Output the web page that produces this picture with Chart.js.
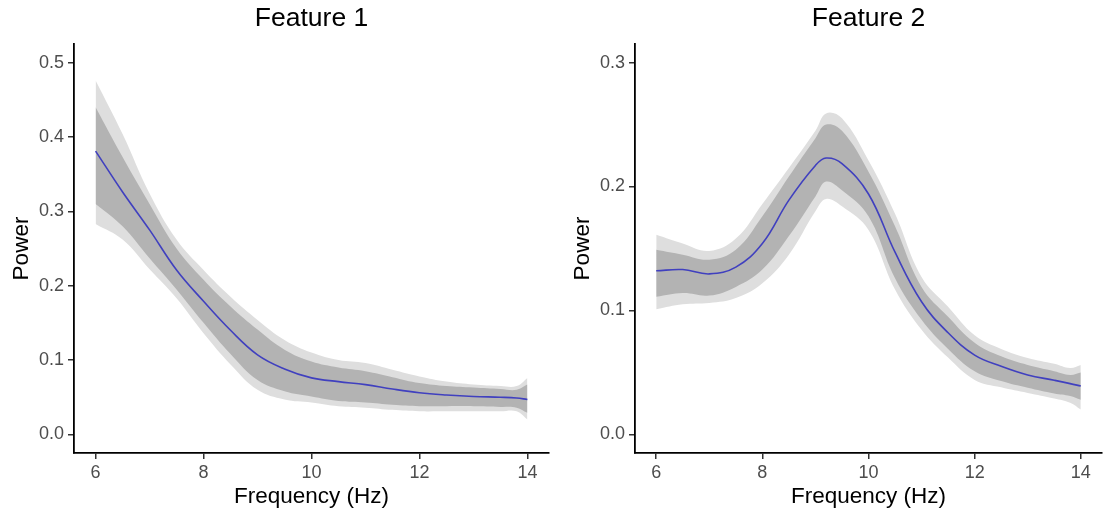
<!DOCTYPE html>
<html>
<head>
<meta charset="utf-8">
<script src="https://cdn.jsdelivr.net/npm/chart.js@4.4.1/dist/chart.umd.min.js"></script>
<style>
  body { margin: 0; background: #fff; }
  #wrap { position: relative; width: 1103px; height: 515px; }
  canvas { position: absolute; top: 0; }
</style>
</head>
<body>
<div id="wrap">
  <canvas id="feat1" width="551" height="515" style="left:0"></canvas>
  <canvas id="feat2" width="542" height="515" style="left:561px"></canvas>
</div>
<script>
// Feature 1
const freq1 = [6, 6.5, 7, 7.5, 8, 8.5, 9, 9.5, 10, 10.5, 11, 11.5, 12, 12.5, 13, 13.5, 13.8, 14];
const mean1 = [0.381, 0.326, 0.275, 0.221, 0.179, 0.140, 0.107, 0.088, 0.076, 0.071, 0.067, 0.061, 0.056, 0.053, 0.051, 0.050, 0.049, 0.047];
const innerHi1 = [0.440, 0.373, 0.310, 0.250, 0.208, 0.172, 0.141, 0.114, 0.098, 0.090, 0.085, 0.077, 0.069, 0.065, 0.063, 0.061, 0.060, 0.067];
const innerLo1 = [0.310, 0.280, 0.237, 0.195, 0.150, 0.108, 0.073, 0.058, 0.051, 0.045, 0.043, 0.040, 0.038, 0.038, 0.038, 0.037, 0.036, 0.029];
const outerHi1 = [0.476, 0.404, 0.324, 0.262, 0.221, 0.185, 0.154, 0.127, 0.110, 0.100, 0.096, 0.087, 0.078, 0.071, 0.067, 0.065, 0.065, 0.076];
const outerLo1 = [0.283, 0.262, 0.222, 0.183, 0.136, 0.094, 0.060, 0.047, 0.043, 0.038, 0.036, 0.033, 0.031, 0.031, 0.031, 0.031, 0.031, 0.020];

// Feature 2
const freq2 = [6, 6.5, 7, 7.5, 8, 8.5, 9, 9.2, 9.5, 10, 10.5, 11, 11.5, 12, 12.5, 13, 13.5, 13.8, 14];
const mean2 = [0.132, 0.133, 0.1295, 0.135, 0.154, 0.189, 0.217, 0.223, 0.2185, 0.194, 0.147, 0.107, 0.082, 0.064, 0.055, 0.048, 0.0437, 0.041, 0.039];
const innerHi2 = [0.149, 0.145, 0.141, 0.149, 0.176, 0.208, 0.239, 0.250, 0.245, 0.212, 0.168, 0.119, 0.095, 0.074, 0.063, 0.056, 0.051, 0.048, 0.050];
const innerLo2 = [0.111, 0.114, 0.112, 0.119, 0.133, 0.160, 0.192, 0.204, 0.197, 0.176, 0.126, 0.0925, 0.069, 0.051, 0.043, 0.0376, 0.033, 0.031, 0.028];
const outerHi2 = [0.161, 0.154, 0.148, 0.158, 0.186, 0.215, 0.245, 0.259, 0.255, 0.221, 0.178, 0.127, 0.103, 0.080, 0.069, 0.0617, 0.057, 0.0536, 0.056];
const outerLo2 = [0.101, 0.105, 0.106, 0.110, 0.122, 0.145, 0.180, 0.190, 0.184, 0.165, 0.117, 0.0845, 0.062, 0.044, 0.038, 0.0335, 0.029, 0.0255, 0.020];

const xTicks = [6, 8, 10, 12, 14];
const yTicks1 = [0, 0.1, 0.2, 0.3, 0.4, 0.5];
const yTicks2 = [0, 0.1, 0.2, 0.3];

const fontFam = '"Liberation Sans", Arial, Helvetica, sans-serif';

function pts(xs, ys) {
    return xs.map((x, i) => ({ x: x, y: ys[i] }));
}

function band(xs, ys, fill, color, order) {
    return {
        data: pts(xs, ys),
        borderWidth: 0,
        pointRadius: 0,
        fill: fill,
        backgroundColor: color,
        tension: 0.4,
        order: order
    };
}

function makePanel(id, title, xs, mean, inHi, inLo, outHi, outLo, yMin, yMax, yTicks, padRight) {
    const ctx = document.getElementById(id).getContext('2d');
    return new Chart(ctx, {
        type: 'line',
        data: {
            datasets: [
                band(xs, outHi, '+1', '#dedede', 2),
                band(xs, outLo, false, '#dedede', 2),
                band(xs, inHi, '+1', '#b3b3b3', 1),
                band(xs, inLo, false, '#b3b3b3', 1),
                {
                    data: pts(xs, mean),
                    borderColor: '#4040bf',
                    borderWidth: 1.6,
                    pointRadius: 0,
                    fill: false,
                    tension: 0.4,
                    order: 0
                }
            ]
        },
        options: {
            responsive: false,
            devicePixelRatio: 1,
            animation: false,
            layout: { padding: { left: 0, right: padRight, top: 0, bottom: 0 } },
            plugins: {
                legend: { display: false },
                tooltip: { enabled: false },
                title: {
                    display: true,
                    text: title,
                    fullSize: false,
                    color: '#000',
                    font: { family: fontFam, size: 26.5, weight: 'normal' },
                    padding: { top: 3, bottom: 9.2 }
                }
            },
            scales: {
                x: {
                    type: 'linear',
                    min: 5.6,
                    max: 14.4,
                    afterBuildTicks: (s) => { s.ticks = xTicks.map(v => ({ value: v })); },
                    afterFit: (s) => { s.height = 62; },
                    ticks: { color: '#4d4d4d', font: { family: fontFam, size: 18 }, padding: 3 },
                    grid: { drawOnChartArea: false, drawTicks: true, tickLength: 6, color: '#333', lineWidth: 1.5 },
                    border: { display: true, color: '#000', width: 1.8 },
                    title: {
                        display: true, text: 'Frequency (Hz)', color: '#000',
                        font: { family: fontFam, size: 22.5 }, padding: { top: 0, bottom: 4.5 }
                    }
                },
                y: {
                    type: 'linear',
                    min: yMin,
                    max: yMax,
                    afterBuildTicks: (s) => { s.ticks = yTicks.map(v => ({ value: v })); },
                    afterFit: (s) => { s.width = 74; },
                    ticks: {
                        color: '#4d4d4d', font: { family: fontFam, size: 18 }, padding: 4,
                        callback: (v) => v.toFixed(1)
                    },
                    grid: { drawOnChartArea: false, drawTicks: true, tickLength: 6, color: '#333', lineWidth: 1.5 },
                    border: { display: true, color: '#000', width: 1.8 },
                    title: {
                        display: true, text: 'Power', color: '#000',
                        font: { family: fontFam, size: 22.5 }, padding: { top: 8, bottom: 0 }
                    }
                }
            }
        }
    });
}

makePanel('feat1', 'Feature 1', freq1, mean1, innerHi1, innerLo1, outerHi1, outerLo1, -0.025, 0.525, yTicks1, 2);
makePanel('feat2', 'Feature 2', freq2, mean2, innerHi2, innerLo2, outerHi2, outerLo2, -0.015, 0.315, yTicks2, 1);
</script>
</body>
</html>
